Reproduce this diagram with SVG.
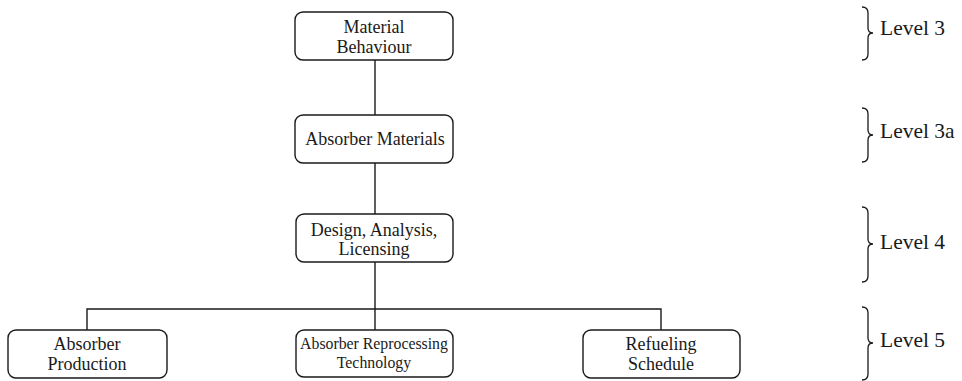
<svg xmlns="http://www.w3.org/2000/svg" width="962" height="381" viewBox="0 0 962 381">
  <style>
    .box { fill: #ffffff; stroke: #1a1a1a; stroke-width: 1.4; }
    .wire { fill: none; stroke: #1a1a1a; stroke-width: 1.4; }
    .brace { fill: none; stroke: #1a1a1a; stroke-width: 1.3; }
    .lbl { font-family: "Liberation Serif", "Times New Roman", serif; font-size: 18px; fill: #1a1a1a; text-anchor: middle; }
    .small { font-size: 15.8px; }
    .lvl { font-family: "Liberation Serif", "Times New Roman", serif; font-size: 21.5px; fill: #1a1a1a; }
  </style>

  <!-- connectors -->
  <g id="connectors">
    <path class="wire" d="M375 60 V115"/>
    <path class="wire" d="M375 163 V214"/>
    <path class="wire" d="M375 262 V330"/>
    <path class="wire" d="M87 330 V309 H661 V330"/>
  </g>

  <!-- nodes -->
  <g id="material-behaviour">
    <rect class="box" x="295" y="12" width="158" height="48" rx="8"/>
    <text class="lbl" x="374" y="33">Material</text>
    <text class="lbl" x="374" y="53">Behaviour</text>
  </g>
  <g id="absorber-materials">
    <rect class="box" x="295" y="115" width="158" height="48" rx="8"/>
    <text class="lbl" x="375" y="145">Absorber Materials</text>
  </g>
  <g id="design-analysis-licensing">
    <rect class="box" x="296" y="214" width="157" height="48" rx="8"/>
    <text class="lbl" x="374" y="236">Design, Analysis,</text>
    <text class="lbl" x="374" y="255">Licensing</text>
  </g>
  <g id="absorber-production">
    <rect class="box" x="8" y="330" width="159" height="48" rx="8"/>
    <text class="lbl" x="87" y="350">Absorber</text>
    <text class="lbl" x="87" y="370">Production</text>
  </g>
  <g id="absorber-reprocessing">
    <rect class="box" x="296" y="330" width="157" height="47" rx="8"/>
    <text class="lbl small" x="374" y="349">Absorber Reprocessing</text>
    <text class="lbl small" x="374" y="368">Technology</text>
  </g>
  <g id="refueling-schedule">
    <rect class="box" x="583" y="330" width="157" height="48" rx="8"/>
    <text class="lbl" x="661" y="350">Refueling</text>
    <text class="lbl" x="661" y="370">Schedule</text>
  </g>

  <!-- level braces -->
  <g id="level-3">
    <path class="brace" d="M862 7 Q868 7 868 13 V28 Q868 33 873 33 Q868 33 868 38 V54 Q868 60 862 60"/>
    <text class="lvl" x="880" y="35">Level 3</text>
  </g>
  <g id="level-3a">
    <path class="brace" d="M862 108 Q868 108 868 114 V130 Q868 135 873 135 Q868 135 868 140 V156 Q868 162 862 162"/>
    <text class="lvl" x="880" y="138">Level 3a</text>
  </g>
  <g id="level-4">
    <path class="brace" d="M862 207 Q868 207 868 213 V239 Q868 244 873 244 Q868 244 868 249 V276 Q868 282 862 282"/>
    <text class="lvl" x="880" y="249">Level 4</text>
  </g>
  <g id="level-5">
    <path class="brace" d="M862 307 Q868 307 868 313 V338 Q868 343 873 343 Q868 343 868 348 V374 Q868 380 862 380"/>
    <text class="lvl" x="880" y="347">Level 5</text>
  </g>
</svg>
